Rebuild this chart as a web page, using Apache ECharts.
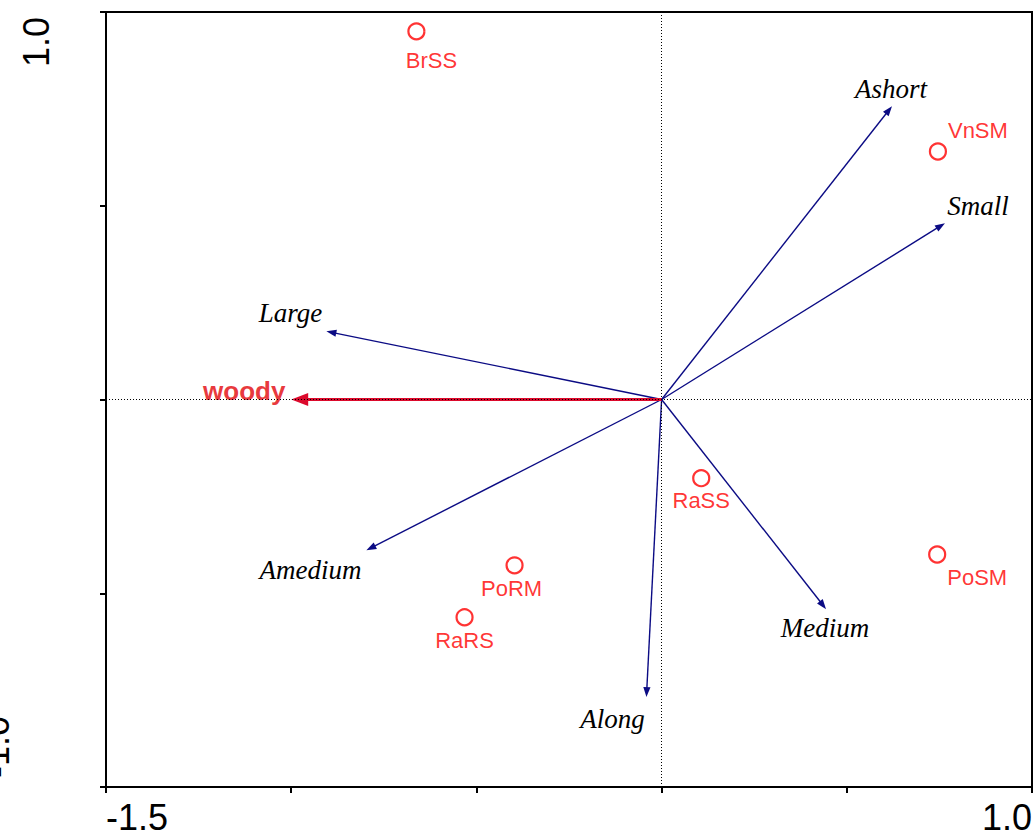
<!DOCTYPE html>
<html>
<head>
<meta charset="utf-8">
<title>Ordination biplot</title>
<script src="https://cdn.jsdelivr.net/npm/echarts@6/dist/echarts.min.js"></script>
<style>
  html, body { margin: 0; padding: 0; background: #ffffff; }
  #chart { width: 1035px; height: 837px; }
</style>
</head>
<body>
<div id="chart"></div>
<script>
// Sample scores (sites)
const sampleNames = ['BrSS', 'VnSM', 'RaSS', 'PoSM', 'PoRM', 'RaRS'];
const sampleX = [-0.662, 0.746, 0.107, 0.744, -0.397, -0.532];
const sampleY = [0.950, 0.640, -0.203, -0.400, -0.428, -0.562];

// Environmental variable arrows
const envNames = ['Ashort', 'Small', 'Large', 'Amedium', 'Along', 'Medium'];
const envX = [0.622, 0.765, -0.905, -0.797, -0.041, 0.444];
const envY = [0.757, 0.455, 0.176, -0.389, -0.768, -0.541];

// Supplementary variable arrow
const suppNames = ['woody'];
const suppX = [-1.000];
const suppY = [0.000];

// Axis ranges and the tick values that carry a label
const xRange = [-1.5, 1.0];
const yRange = [-1.0, 1.0];
const tickStep = 0.5;
const xLabelValues = [-1.5, 1.0];
const yLabelValues = [1.0, -1.0];

// Label placement (pixel offsets from the mark)
const sampleLabelOffset = {
  BrSS: [15, 29], VnSM: [40, -21], RaSS: [0, 22],
  PoSM: [40, 23], PoRM: [-3, 23], RaRS: [0, 23]
};
const envLabelOffset = {
  Ashort: [-1, -17], Small: [33, -17], Large: [-36, -18],
  Amedium: [-56, 20], Along: [-34, 22], Medium: [-1, 19]
};
const suppLabelOffset = { woody: [-47, -9] };
const yLabelOffset = [[36, 30], [-4, -40]];

const SANS = "'Liberation Sans', Arial, Helvetica, sans-serif";
const SERIF = "'Liberation Serif', 'Times New Roman', Times, serif";

const chart = echarts.init(document.getElementById('chart'), null, { renderer: 'svg' });

function arrowRenderer(names, offsets, look) {
  return function (params, api) {
    const p0 = api.coord([0, 0]);
    const p1 = api.coord([api.value(0), api.value(1)]);
    const dx = p1[0] - p0[0], dy = p1[1] - p0[1];
    const len = Math.hypot(dx, dy) || 1;
    const ux = dx / len, uy = dy / len;
    const base = [p1[0] - ux * look.headLen, p1[1] - uy * look.headLen];
    const left = [base[0] - uy * look.headW, base[1] + ux * look.headW];
    const right = [base[0] + uy * look.headW, base[1] - ux * look.headW];
    const name = names[params.dataIndex];
    const off = offsets[name];
    return {
      type: 'group',
      children: [
        { type: 'line', shape: { x1: p0[0], y1: p0[1], x2: base[0] + ux * 1, y2: base[1] + uy * 1 },
          style: { stroke: look.color, lineWidth: look.width } },
        { type: 'polygon', shape: { points: [p1, left, right] },
          style: { fill: look.color } },
        { type: 'text', x: p1[0] + off[0], y: p1[1] + off[1],
          style: { text: name, align: 'center', verticalAlign: 'middle',
                   fill: look.textColor, font: look.font } }
      ]
    };
  };
}

const option = {
  animation: false,
  backgroundColor: '#ffffff',
  grid: {
    left: 106, right: 3, top: 12, bottom: 50,
    show: true, borderColor: '#000000', borderWidth: 2, backgroundColor: 'transparent'
  },
  xAxis: {
    type: 'value', min: xRange[0], max: xRange[1], interval: tickStep,
    axisLine: { show: true, onZero: false, lineStyle: { color: '#000', width: 2 } },
    axisTick: { show: true, length: 6, lineStyle: { color: '#000', width: 2 } },
    splitLine: { show: false },
    axisLabel: {
      margin: 12, color: '#000', fontSize: 36, fontFamily: SANS,
      alignMinLabel: 'left', alignMaxLabel: 'right',
      formatter: v => xLabelValues.some(t => Math.abs(t - v) < 1e-9) ? v.toFixed(1) : ''
    }
  },
  yAxis: {
    type: 'value', min: yRange[0], max: yRange[1], interval: tickStep,
    axisLine: { show: true, onZero: false, lineStyle: { color: '#000', width: 2 } },
    axisTick: { show: true, length: 6, lineStyle: { color: '#000', width: 2 } },
    splitLine: { show: false },
    axisLabel: { show: false }
  },
  series: [
    {
      // dotted origin cross-hairs
      type: 'scatter', data: [], silent: true,
      markLine: {
        silent: true, symbol: 'none', label: { show: false },
        lineStyle: { color: '#000', width: 1, type: [1, 2] },
        data: [{ xAxis: 0 }, { yAxis: 0 }]
      }
    },
    {
      type: 'custom', clip: false, silent: true,
      renderItem: arrowRenderer(envNames, envLabelOffset, {
        color: '#0b0b84', width: 1.4, headLen: 10, headW: 3.6,
        textColor: '#000000', font: 'italic 27px ' + SERIF
      }),
      data: envNames.map((n, i) => [envX[i], envY[i]])
    },
    {
      type: 'custom', clip: false, silent: true,
      renderItem: arrowRenderer(suppNames, suppLabelOffset, {
        color: '#dc0a2c', width: 3, headLen: 17, headW: 6.5,
        textColor: '#e83a3e', font: 'bold 26px ' + SANS
      }),
      data: suppNames.map((n, i) => [suppX[i], suppY[i]])
    },
    {
      type: 'scatter', silent: true,
      symbol: 'circle', symbolSize: 16,
      itemStyle: { color: '#ffffff', borderColor: '#ff0000', borderWidth: 2.2 },
      label: {
        show: true, position: 'inside', color: '#ff0000', fontSize: 22, fontFamily: SANS,
        align: 'center', verticalAlign: 'middle',
        formatter: p => p.name
      },
      labelLayout: p => {
        const off = sampleLabelOffset[sampleNames[p.dataIndex]];
        return { dx: off[0], dy: off[1] };
      },
      data: sampleNames.map((n, i) => ({ name: n, value: [sampleX[i], sampleY[i]] }))
    }
  ]
};

chart.setOption(option);

// Rotated y-axis tick labels
const yLabelGraphics = yLabelValues.map((v, i) => {
  const py = chart.convertToPixel({ gridIndex: 0 }, [xRange[0], v])[1];
  return {
    type: 'text', x: yLabelOffset[i][0], y: py + yLabelOffset[i][1], rotation: Math.PI / 2,
    style: { text: v.toFixed(1), font: '36px ' + SANS, fill: '#000',
             align: 'center', verticalAlign: 'middle' }
  };
});
chart.setOption({ graphic: yLabelGraphics });
</script>
</body>
</html>
